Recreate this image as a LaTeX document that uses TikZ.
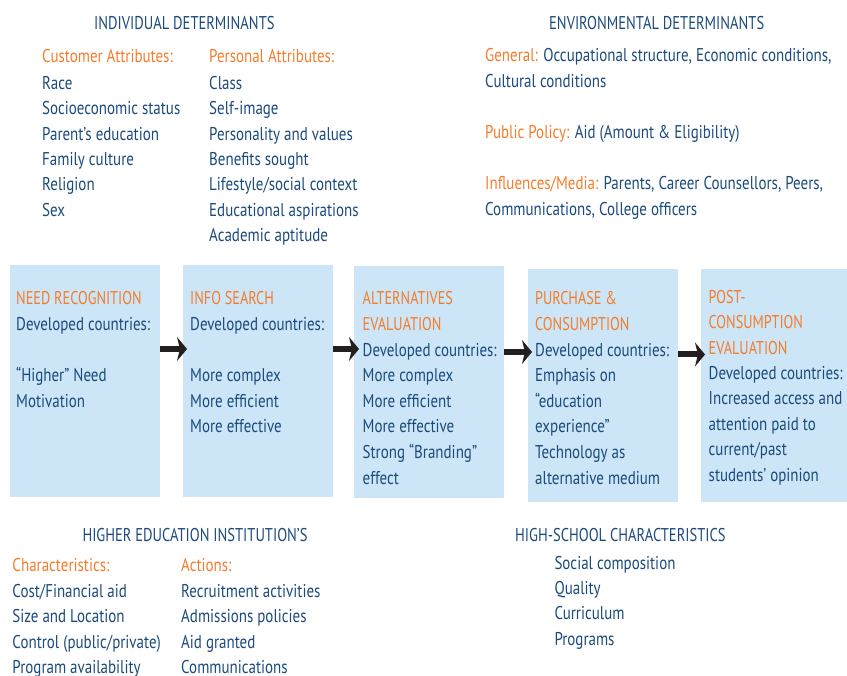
\documentclass[tikz,border=0pt]{standalone}
\usepackage{fontspec}
\setmainfont{PT Sans}[FakeStretch=0.81]
\newfontfamily\titlefont{PT Sans}[FakeStretch=0.785]
\newfontfamily\capfont{PT Sans}[FakeStretch=0.77]
\usetikzlibrary{arrows.meta}
\definecolor{navy}{HTML}{1B4A7C}
\definecolor{org}{HTML}{F47C2A}
\definecolor{boxblue}{HTML}{CCE6F7}
\definecolor{arrblack}{HTML}{231F20}
\newcommand\mylist[1]{\begin{tabular}[t]{@{}l@{}}#1\end{tabular}}
\newcommand\hd[1]{\textcolor{org}{\capfont #1}}
\begin{document}
\begin{tikzpicture}[x=1pt,y=-1pt,
  txt/.style={anchor=base west, inner sep=0pt, text=navy, font=\fontsize{18.5}{25.4}\selectfont},
  otxt/.style={txt, text=org},
  title/.style={anchor=base west, inner sep=0pt, text=navy, font=\titlefont\fontsize{18.5}{22}\selectfont},
  stage/.style={anchor=north west, fill=boxblue, draw=none, inner sep=0pt},
  flow/.style={draw=arrblack, line width=6pt, -{Stealth[length=10pt, width=24pt, inset=3pt]}}]
\useasboundingbox (0,0) rectangle (847,676);

% top left
\node[title] (t1) at (94,29.5) {INDIVIDUAL DETERMINANTS};
\node[otxt] (ca) at (42,62.7) {Customer Attributes:};
\node[otxt] (pa) at (209,62.7) {Personal Attributes:};
\node[txt] (cal) at (42,89.3) {\mylist{Race\\Socioeconomic status\\Parent’s education\\Family culture\\Religion\\Sex}};
\node[txt] (pal) at (209,89.3) {\mylist{Class\\Self-image\\Personality and values\\Benefits sought\\Lifestyle/social context\\Educational aspirations\\Academic aptitude}};

% top right
\node[title] (t2) at (549,29.5) {ENVIRONMENTAL DETERMINANTS};
\node[txt] (gen) at (485,61.7) {\mylist{\textcolor{org}{General:} Occupational structure, Economic conditions,\\Cultural conditions}};
\node[txt] (pp) at (485,138.3) {\textcolor{org}{Public Policy:} Aid (Amount \& Eligibility)};
\node[txt] (inf) at (485,190) {\mylist{\textcolor{org}{Influences/Media:} Parents, Career Counsellors, Peers,\\Communications, College officers}};

% stage boxes
\node[stage, minimum width=150pt, minimum height=232pt] (b1) at (10,265) {};
\node[stage, minimum width=150pt, minimum height=232pt] (b2) at (183,265) {};
\node[stage, minimum width=150pt, minimum height=232pt] (b3) at (354,266) {};
\node[stage, minimum width=150pt, minimum height=233pt] (b4) at (528,269) {};
\node[stage, minimum width=146pt, minimum height=233pt] (b5) at (701,269) {};

\node[txt, font=\fontsize{18.5}{25.6}\selectfont] (s1) at (16,305) {\mylist{\hd{NEED RECOGNITION}\\Developed countries:\\\\“Higher” Need\\Motivation}};
\node[txt, font=\fontsize{18.5}{25.6}\selectfont] (s2) at (190,305) {\mylist{\hd{INFO SEARCH}\\Developed countries:\\\\More complex\\More efficient\\More effective}};
\node[txt, font=\fontsize{18.5}{25.6}\selectfont] (s3) at (362.5,305) {\mylist{\hd{ALTERNATIVES}\\\hd{EVALUATION}\\Developed countries:\\More complex\\More efficient\\More effective\\Strong “Branding”\\effect}};
\node[txt, font=\fontsize{18.5}{25.6}\selectfont] (s4) at (535,305) {\mylist{\hd{PURCHASE \&}\\\hd{CONSUMPTION}\\Developed countries:\\Emphasis on\\“education\\experience”\\Technology as\\alternative medium}};
\node[txt, font=\fontsize{18.5}{25.4}\selectfont] (s5) at (708.5,303.3) {\mylist{\hd{POST-}\\\hd{CONSUMPTION}\\\hd{EVALUATION}\\Developed countries:\\Increased access and\\attention paid to\\current/past\\students’ opinion}};

% arrows
\draw[flow] (b1.east |- 0,349) -- ([xshift=4pt]b2.west |- 0,349);
\draw[flow] (b2.east |- 0,349) -- ([xshift=5pt]b3.west |- 0,349);
\draw[flow] (b3.east |- 0,352) -- ([xshift=4pt]b4.west |- 0,352);
\draw[flow] (b4.east |- 0,354.5) -- ([xshift=4pt]b5.west |- 0,354.5);

% bottom left
\node[title] (t3) at (82.3,541) {HIGHER EDUCATION INSTITUTION’S};
\node[otxt] (ch) at (12.3,571.7) {Characteristics:};
\node[otxt] (ac) at (181,571.7) {Actions:};
\node[txt, font=\fontsize{18.5}{25.5}\selectfont] (chl) at (12.3,597.3) {\mylist{Cost/Financial aid\\Size and Location\\Control (public/private)\\Program availability}};
\node[txt, font=\fontsize{18.5}{25.5}\selectfont] (acl) at (181,597.3) {\mylist{Recruitment activities\\Admissions policies\\Aid granted\\Communications}};

% bottom right
\node[title] (t4) at (515,541) {HIGH-SCHOOL CHARACTERISTICS};
\node[txt, font=\fontsize{18.5}{25.4}\selectfont] (hsl) at (554.3,569) {\mylist{Social composition\\Quality\\Curriculum\\Programs}};
\end{tikzpicture}
\end{document}
